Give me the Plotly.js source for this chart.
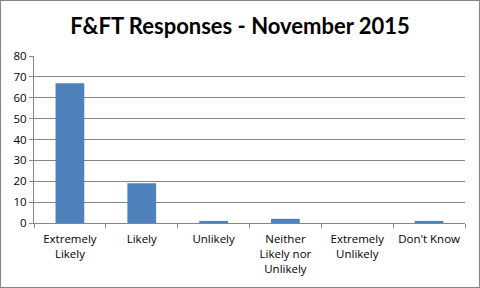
<!DOCTYPE html>
<html><head><meta charset="utf-8">
<script src="https://cdn.plot.ly/plotly-3.0.1.min.js"></script>
<style>html,body{margin:0;padding:0;background:#fff}#c{width:478px;height:286px;border:1px solid #868686}</style>
</head><body><div id="c"></div>
<script>
const categories = ["Extremely<br>Likely", "Likely", "Unlikely", "Neither<br>Likely nor<br>Unlikely", "Extremely<br>Unlikely", "Don't Know"];
const responses = [67, 19, 1, 2, 0, 1];
const yTicks = [0, 10, 20, 30, 40, 50, 60, 70, 80];

Plotly.newPlot('c', [{
  type: 'bar', x: categories, y: responses,
  marker: {color: '#4f81bd'}, hoverinfo: 'none'
}], {
  width: 478, height: 286,
  margin: {l: 33, r: 14, t: 55, b: 64, pad: 0},
  paper_bgcolor: '#fff', plot_bgcolor: '#fff',
  bargap: 0.6,
  showlegend: false,
  font: {family: '"Open Sans", sans-serif', size: 11, color: '#000'},
  title: {text: '<b>F&FT Responses - November 2015</b>', x: 0.5, xanchor: 'center', y: 0.91, yanchor: 'middle',
          font: {family: 'Lato, "Open Sans", sans-serif', size: 22, color: '#000'}},
  xaxis: {type: 'category', tickson: 'boundaries', ticks: 'outside', ticklen: 4, tickcolor: '#868686',
          showline: true, linecolor: '#868686', linewidth: 1, showgrid: false, tickangle: 0,
          ticklabelstandoff: 5,
          tickfont: {family: '"Open Sans", sans-serif', size: 11.5}},
  yaxis: {range: [0, 80], tickvals: yTicks, ticks: 'outside', ticklen: 4, tickcolor: '#868686',
          showline: true, linecolor: '#868686', gridcolor: '#868686', gridwidth: 1, zeroline: false,
          tickfont: {family: '"Open Sans", sans-serif', size: 11.5}}
}, {staticPlot: true});
</script></body></html>
